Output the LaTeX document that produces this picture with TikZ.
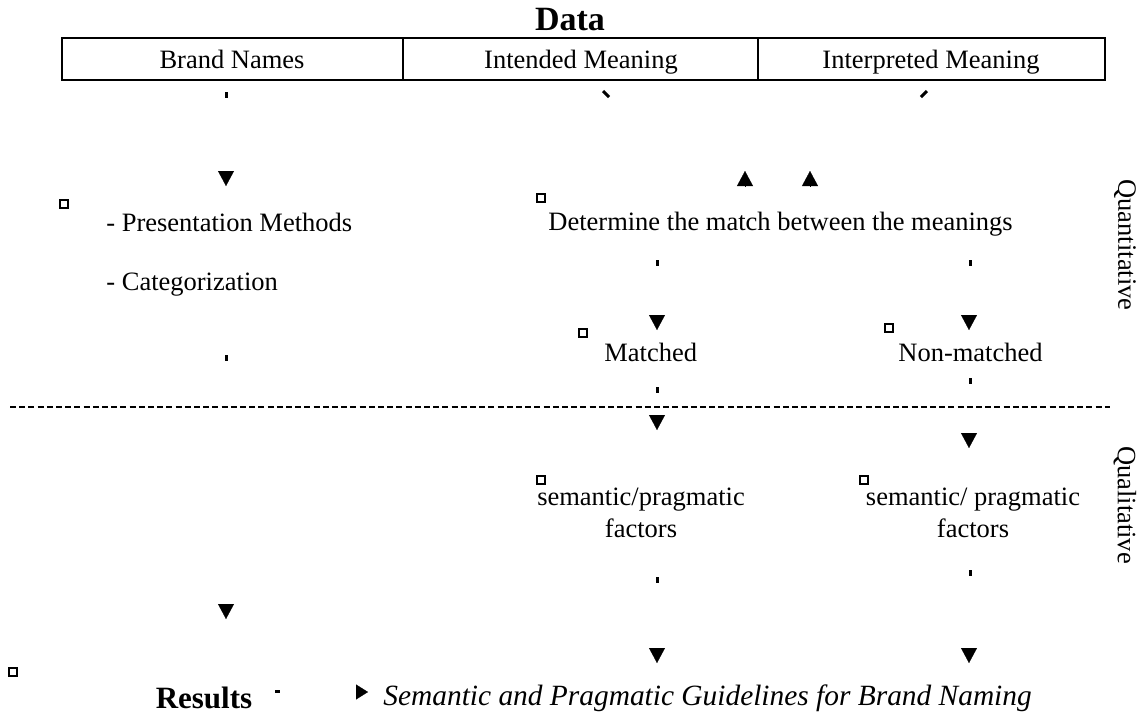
\documentclass[tikz,border=0pt]{standalone}
\usepackage{fontspec}
\setmainfont{Liberation Serif}
\usetikzlibrary{arrows.meta}
\begin{document}
\begin{tikzpicture}[x=0.5pt,y=-0.5pt,
  lab/.style={font=\fontsize{13.25}{16}\selectfont, inner sep=0pt},
  stub/.style={line width=1.5pt},
  head/.style={-{Triangle[width=8pt,length=7.5pt]}, line width=0.1pt},
  box/.style={draw, line width=1pt, minimum size=4pt, inner sep=0pt}]
  \useasboundingbox (0,0) rectangle (1142,719);
  % data table
  \node[font=\bfseries\fontsize{17}{20}\selectfont, inner sep=0pt] (data) at (570,20) {Data};
  \draw[line width=0.7pt] (62,38) rectangle (1105,80);
  \draw[line width=0.7pt] (403,38) -- (403,80) (758,38) -- (758,80);
  \node[lab, anchor=base] (brand) at (232,68) {Brand Names};
  \node[lab, anchor=base] (intended) at (581,68) {Intended Meaning};
  \node[lab, anchor=base] (interp) at (931,68) {Interpreted Meaning};
  \draw[stub] (226,92) -- (226,98);
  \draw[stub] (603,91) -- (609,97);
  \draw[stub] (927,91) -- (921,97);
  % quantitative part
  \foreach \x/\y in {226/171, 657/315, 969/315, 657/415, 969/433, 226/604, 657/648, 969/648}
    \draw[head] (\x,\y) -- (\x,\y+15);
  \foreach \x in {745, 810}
    \draw[head] (\x,186) -- (\x,171);
  \foreach \x/\y in {64/204, 541/198, 583/333, 889/328, 541/480, 864/480, 13/672}
    \node[box] at (\x,\y) {};
  \node[lab, anchor=west] (pres) at (106,222) {- Presentation Methods};
  \node[lab, anchor=west] (categ) at (106,285) {- Categorization};
  \node[lab, anchor=west] (match) at (548,224) {Determine the match between the meanings};
  \draw[stub] (657,260) -- (657,266) (970,260) -- (970,266);
  \draw[stub] (226,355) -- (226,361);
  \node[lab, anchor=west] (matched) at (604,352) {Matched};
  \node[lab, anchor=west] (nonmatched) at (898,352) {Non-matched};
  \draw[stub] (657,387) -- (657,393) (970,378) -- (970,384);
  \draw[dashed, dash pattern=on 3pt off 1.6pt, line width=0.7pt] (10,407) -- (1110,407);
  % qualitative part
  \node[lab, align=center] (semA) at (641,513) {semantic/pragmatic\\factors};
  \node[lab, align=center] (semB) at (973,513) {semantic/ pragmatic\\factors};
  \draw[stub] (657,577) -- (657,583) (970,570) -- (970,576);
  % results
  \node[font=\bfseries\fontsize{15.5}{18}\selectfont, inner sep=0pt] (results) at (204,698) {Results};
  \draw[line width=1.5pt] (275,691) -- (280,691);
  \draw[-{Triangle[width=7.5pt,length=6pt]}, line width=0.1pt] (356,692) -- (368,692);
  \node[font=\itshape\fontsize{14.7}{18}\selectfont, inner sep=0pt, anchor=west] (guide) at (383,698) {Semantic and Pragmatic Guidelines for Brand Naming};
  \node[lab, rotate=-90] (quant) at (1125,245) {Quantitative};
  \node[lab, rotate=-90] (qual) at (1125,505) {Qualitative};
\end{tikzpicture}
\end{document}
